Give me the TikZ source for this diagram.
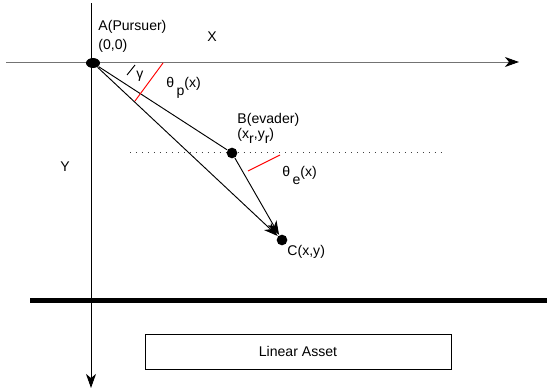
\documentclass[tikz,border=0pt]{standalone}
\usepackage{fontspec}
\setmainfont{Liberation Sans}
\usetikzlibrary{arrows.meta,shapes.geometric}
\begin{document}
\begin{tikzpicture}
      [x=0.03cm,y=-0.03cm,line width=0.8pt,
       every node/.style={font=\fontsize{12}{14}\selectfont,inner sep=0pt},
       bigdot/.style={ellipse,fill=black,minimum width=0.32cm,minimum height=0.32cm},
       lbl/.style={anchor=base west},
       tip/.style={-{Stealth[length=12pt,width=8.5pt,inset=3.5pt,black]}}]
      \useasboundingbox (0,0) rectangle (547,391);

      % axes and asset line
      \coordinate (xs) at (6,62);
      \coordinate (xe) at (519,62);
      \coordinate (ys) at (91,3);
      \coordinate (ye) at (91,388);
      \draw[tip,black!55] (xs) -- (xe);
      \draw[tip] (ys) -- (ye);
      \draw[line width=4.3pt] (30,300.5) -- (547,300.5);
      \draw[black!75,dash pattern=on 0.8pt off 4.3pt] (130,152) -- (443,152);

      % points
      \node[bigdot,minimum width=0.42cm,minimum height=0.3cm] (A) at (93,63) {};
      \node[bigdot] (B) at (232,153) {};
      \node[bigdot] (C) at (282,240) {};

      \draw (A) -- (B);
      \foreach \from in {A,B}
      \draw[tip] (\from) -- (C);

      % angle marks
      \draw[red] (163,63) -- (135,101);
      \draw[red] (248,171) -- (280,155);
      \draw (127,75) -- (135,65);

      % labels
      \node[lbl] (Alab) at (98,31) {A(Pursuer)};
      \node[lbl] (Aco) at (98,49) {(0,0)};
      \node[anchor=base] (xlab) at (212,42) {X};
      \node[anchor=base] (ylab) at (65,171) {Y};
      \node (gam) at (140,76) {γ};
      \node[lbl] (thp) at (166,88) {θ\,\raisebox{-6.5pt}{p}(x)};
      \node[lbl] (Blab) at (237,123) {B(evader)};
      \node[lbl] (Bco) at (237,138) {(x\raisebox{-5pt}{r},y\raisebox{-5pt}{r})};
      \node[lbl] (the) at (282,176) {θ\,\raisebox{-7pt}{e}(x)};
      \node[lbl] (Clab) at (287,255) {C(x,y)};

      \node[draw,minimum width=9.18cm,minimum height=1.05cm] (asset) at (298,351.5) {Linear Asset};
\end{tikzpicture}
\end{document}
